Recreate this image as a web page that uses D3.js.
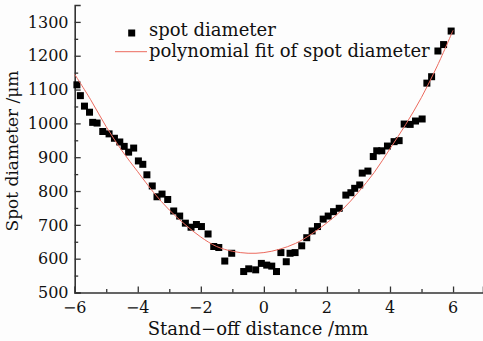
<!DOCTYPE html>
<html>
<head>
<meta charset="utf-8">
<script src="https://cdn.jsdelivr.net/npm/d3@7"></script>
<style>
  html, body { margin: 0; padding: 0; background: #fdfdfd; }
  svg { display: block; }
  text { font-family: "DejaVu Serif", serif; fill: #111; }
</style>
</head>
<body>
<div id="chart"></div>
<script>
// measured spot diameter (stand-off distance in mm, diameter in um)
const spotX = [
  -5.93, -5.82, -5.69, -5.53, -5.43, -5.29, -5.11, -4.91, -4.74, -4.57,
  -4.43, -4.29, -4.13, -3.98, -3.84, -3.71, -3.54, -3.39, -3.23, -3.05,
  -2.86, -2.67, -2.49, -2.31, -2.14, -1.98, -1.77, -1.59, -1.43, -1.24,
  -1.02, -0.64, -0.48, -0.26, -0.08, 0.09, 0.25, 0.40, 0.54, 0.71,
  0.83, 0.99, 1.20, 1.36, 1.53, 1.70, 1.88, 2.04, 2.21, 2.39,
  2.60, 2.76, 2.88, 3.04, 3.12, 3.30, 3.47, 3.58, 3.74, 3.92,
  4.13, 4.29, 4.45, 4.64, 4.81, 5.02, 5.17, 5.32, 5.52, 5.70, 5.94
];
const spotY = [
  1114, 1082, 1051, 1033, 1003, 1001, 976, 969, 956, 945,
  932, 915, 927, 889, 879, 848, 815, 783, 791, 775,
  741, 726, 705, 693, 701, 695, 673, 636, 633, 593,
  616, 562, 570, 567, 586, 581, 578, 562, 618, 591,
  616, 618, 638, 662, 682, 695, 717, 726, 739, 749,
  788, 795, 808, 818, 853, 859, 902, 919, 919, 933,
  946, 949, 998, 997, 1007, 1013, 1119, 1138, 1214, 1233, 1273
];

// polynomial fit, every 0.5 mm
const fitX = [-6, -5.5, -5, -4.5, -4, -3.5, -3, -2.5, -2, -1.5, -1, -0.5, 0,
  0.5, 1, 1.5, 2, 2.5, 3, 3.5, 4, 4.5, 5, 5.5, 6];
const fitY = [1145, 1071, 990, 919, 857, 796, 744, 701, 664, 636, 622, 616, 618,
  628, 645, 672, 706, 746, 797, 855, 925, 997, 1077, 1170, 1275];

const xTicks = [-6, -4, -2, 0, 2, 4, 6];
const xMinorTicks = [-5, -3, -1, 1, 3, 5];
const yTicks = [500, 600, 700, 800, 900, 1000, 1100, 1200, 1300];
const yMinorTicks = [550, 650, 750, 850, 950, 1050, 1150, 1250];

const legendLabels = ['spot diameter', 'polynomial fit of spot diameter'];

const width = 483, height = 341;

const x = d3.scaleLinear().domain([-6, 6.95]).range([74.7, 483]);
const y = d3.scaleLinear().domain([500, 1350]).range([292.5, 5]);

const svg = d3.select('#chart').append('svg')
  .attr('width', width)
  .attr('height', height);

svg.append('rect')
  .attr('width', width)
  .attr('height', height)
  .attr('fill', '#fdfdfd');

// axes: ticks point inward
const axisColor = '#333';

svg.append('g')
  .attr('transform', `translate(0,${y(500)})`)
  .call(d3.axisTop(x).tickValues(xTicks).tickSize(6).tickFormat(''));
svg.append('g')
  .attr('transform', `translate(0,${y(500)})`)
  .call(d3.axisTop(x).tickValues(xMinorTicks).tickSize(3.5).tickFormat(''))
  .select('.domain').remove();

svg.append('g')
  .attr('transform', `translate(${x(-6)},0)`)
  .call(d3.axisRight(y).tickValues(yTicks).tickSize(6).tickFormat(''));
svg.append('g')
  .attr('transform', `translate(${x(-6)},0)`)
  .call(d3.axisRight(y).tickValues(yMinorTicks).tickSize(3.5).tickFormat(''))
  .select('.domain').remove();

svg.selectAll('.domain')
  .attr('stroke', axisColor)
  .attr('stroke-width', 1.6);
svg.selectAll('.tick line')
  .attr('stroke', axisColor)
  .attr('stroke-width', 1.3);

// tick labels
svg.append('g').selectAll('text')
  .data(xTicks)
  .join('text')
  .attr('x', d => x(d))
  .attr('y', 313)
  .attr('text-anchor', 'middle')
  .style('font-size', '16px')
  .text(d => d < 0 ? '\u2212' + Math.abs(d) : d);

svg.append('g').selectAll('text')
  .data(yTicks)
  .join('text')
  .attr('x', 68.5)
  .attr('y', d => y(d))
  .attr('dy', '0.36em')
  .attr('text-anchor', 'end')
  .style('font-size', '16px')
  .text(d => d);

// axis titles
svg.append('text')
  .attr('x', 258)
  .attr('y', 335)
  .attr('text-anchor', 'middle')
  .style('font-size', '18px')
  .text('Stand\u2212off distance /mm');

svg.append('text')
  .attr('transform', 'translate(18,151) rotate(-90)')
  .attr('text-anchor', 'middle')
  .style('font-size', '17px')
  .text('Spot diameter /\u03bcm');

// data points
const spots = spotX.map((d, i) => ({ x: d, y: spotY[i] }));
const sq = 7;
svg.append('g').selectAll('rect')
  .data(spots)
  .join('rect')
  .attr('x', d => x(d.x) - sq / 2)
  .attr('y', d => y(d.y) - sq / 2)
  .attr('width', sq)
  .attr('height', sq)
  .attr('fill', '#000');

// fit curve
const fitColor = '#ec6a5e';
const fit = fitX.map((d, i) => ({ x: d, y: fitY[i] }));
const line = d3.line()
  .x(d => x(d.x))
  .y(d => y(d.y))
  .curve(d3.curveCatmullRom.alpha(0.5));
svg.append('path')
  .datum(fit)
  .attr('d', line)
  .attr('fill', 'none')
  .attr('stroke', fitColor)
  .attr('stroke-width', 1);

// legend
const legend = svg.append('g');
legend.append('rect')
  .attr('x', 131.7 - sq / 2)
  .attr('y', 33 - sq / 2)
  .attr('width', sq)
  .attr('height', sq)
  .attr('fill', '#000');
legend.append('line')
  .attr('x1', 115).attr('x2', 147)
  .attr('y1', 51.7).attr('y2', 51.7)
  .attr('stroke', fitColor)
  .attr('stroke-width', 1);
legend.selectAll('text')
  .data(legendLabels)
  .join('text')
  .attr('x', 149)
  .attr('y', (d, i) => 35.5 + i * 21)
  .style('font-size', '18px')
  .text(d => d);
</script>
</body>
</html>
